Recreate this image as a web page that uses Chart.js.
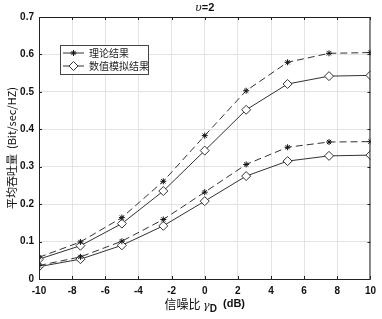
<!DOCTYPE html>
<html>
<head>
<meta charset="utf-8">
<script src="https://cdn.jsdelivr.net/npm/chart.js@4/dist/chart.umd.min.js"></script>
<style>
  html, body { margin: 0; padding: 0; background: #fff; }
  #wrap { width: 382px; height: 319px; }
</style>
</head>
<body>
<div id="wrap"><canvas id="c" width="382" height="319"></canvas></div>
<script>
// data
const snr = [-10, -7.5, -5, -2.5, 0, 2.5, 5, 7.5, 10];
const theoryHigh = [0.058, 0.099, 0.164, 0.261, 0.383, 0.503, 0.579, 0.603, 0.605];
const simHigh    = [0.053, 0.089, 0.148, 0.235, 0.343, 0.452, 0.521, 0.542, 0.544];
const theoryLow  = [0.036, 0.059, 0.101, 0.159, 0.232, 0.306, 0.352, 0.366, 0.367];
const simLow     = [0.033, 0.053, 0.090, 0.142, 0.208, 0.275, 0.315, 0.329, 0.331];
const legendLabels = ['理论结果', '数值模拟结果'];
const xTicks = [-10, -8, -6, -4, -2, 0, 2, 4, 6, 8, 10];

const ink = '#333';
const pts = ys => ys.map((y, i) => ({ x: snr[i], y }));

function theory(ys) {
  return {
    label: legendLabels[0], data: pts(ys),
    borderColor: ink, borderWidth: 1, borderDash: [7, 4],
    pointStyle: 'star', pointRadius: 3, pointBorderColor: '#111', pointBorderWidth: 1,
    pointBackgroundColor: '#111', tension: 0
  };
}
function sim(ys) {
  return {
    label: legendLabels[1], data: pts(ys),
    borderColor: ink, borderWidth: 1,
    pointStyle: 'rectRot', pointRadius: 4.5, pointBorderColor: ink, pointBorderWidth: 1,
    pointBackgroundColor: '#fff', tension: 0
  };
}

// box, title, x label with subscript, legend
const decor = {
  id: 'decor',
  afterDraw(chart) {
    const { ctx, chartArea: a } = chart;
    ctx.save();
    ctx.strokeStyle = '#222';
    ctx.lineWidth = 1;
    ctx.strokeRect(a.left + 0.5, a.top + 0.5, a.right - a.left - 1, a.bottom - a.top);

    // inward ticks
    const xs = chart.scales.x, ys = chart.scales.y;
    ctx.beginPath();
    xTicks.forEach(v => {
      const px = Math.round(xs.getPixelForValue(v)) + 0.5;
      ctx.moveTo(px, a.bottom); ctx.lineTo(px, a.bottom - 3);
      ctx.moveTo(px, a.top); ctx.lineTo(px, a.top + 3);
    });
    for (let v = 0; v <= 0.7001; v += 0.1) {
      const py = Math.round(ys.getPixelForValue(v)) + 0.5;
      ctx.moveTo(a.left, py); ctx.lineTo(a.left + 3, py);
      ctx.moveTo(a.right, py); ctx.lineTo(a.right - 3, py);
    }
    ctx.stroke();

    // title
    const cx = (a.left + a.right) / 2;
    ctx.fillStyle = '#111';
    ctx.textBaseline = 'middle';
    ctx.font = 'italic 11px "DejaVu Serif"';
    const w1 = ctx.measureText('υ').width;
    ctx.font = 'bold 11px "Liberation Sans"';
    const w2 = ctx.measureText('=2').width;
    let tx = cx - (w1 + w2) / 2;
    ctx.textAlign = 'left';
    ctx.font = 'italic 11px "DejaVu Serif"';
    ctx.fillText('υ', tx, 8);
    ctx.font = 'bold 11px "Liberation Sans"';
    ctx.fillText('=2', tx + w1, 8);

    // x label: 信噪比 γD (dB)
    const parts = [
      ['信噪比 ', '12px "Noto Sans CJK SC"', 0],
      ['γ', 'italic 11px "DejaVu Serif"', 2],
      ['D', 'bold 10px "Liberation Sans"', 5],
      ['  (dB)', 'bold 11px "Liberation Sans"', 0]
    ];
    let total = 0;
    parts.forEach(p => { ctx.font = p[1]; total += ctx.measureText(p[0]).width; });
    tx = cx - total / 2;
    parts.forEach(p => {
      ctx.font = p[1];
      ctx.fillText(p[0], tx, 304 + p[2]);
      tx += ctx.measureText(p[0]).width;
    });

    // legend
    const lx = 60, ly = 45, lw = 88, lh = 29;
    ctx.fillStyle = '#fff';
    ctx.fillRect(lx, ly, lw, lh);
    ctx.strokeStyle = '#444';
    ctx.strokeRect(lx + 0.5, ly + 0.5, lw, lh);
    const rows = [chart.data.datasets[0], chart.data.datasets[1]];
    rows.forEach((ds, i) => {
      const ry = ly + 8 + i * 13;
      ctx.strokeStyle = ink; ctx.lineWidth = 1; ctx.setLineDash([]);
      ctx.beginPath(); ctx.moveTo(lx + 3, ry); ctx.lineTo(lx + 24, ry); ctx.stroke();
      ctx.fillStyle = ds.pointBackgroundColor;
      ctx.strokeStyle = ds.pointBorderColor;
      ctx.lineWidth = ds.pointBorderWidth;
      Chart.helpers.drawPoint(ctx, { pointStyle: ds.pointStyle, radius: ds.pointRadius, rotation: 0, borderWidth: ds.pointBorderWidth }, lx + 13.5, ry);
      ctx.fillStyle = '#222';
      ctx.font = '10px "Noto Sans CJK SC"';
      ctx.textAlign = 'left';
      ctx.fillText(ds.label, lx + 29, ry);
    });
    ctx.restore();
  }
};

new Chart(document.getElementById('c'), {
  type: 'line',
  data: {
    datasets: [theory(theoryHigh), sim(simHigh), theory(theoryLow), sim(simLow)]
  },
  options: {
    responsive: false,
    animation: false,
    layout: { padding: { top: 17, right: 9, left: 0, bottom: 0 } },
    plugins: { legend: { display: false }, title: { display: false }, tooltip: { enabled: false } },
    scales: {
      x: {
        type: 'linear', min: -10, max: 10,
        afterBuildTicks: s => { s.ticks = xTicks.map(v => ({ value: v })); },
        grid: { color: '#e3e3e3', drawTicks: false },
        border: { display: false },
        ticks: { color: '#111', padding: 6, font: { family: 'Liberation Sans', size: 10, weight: 'bold' }, maxRotation: 0 },
        afterFit: s => { s.height = 40; }
      },
      y: {
        min: 0, max: 0.7,
        grid: { color: '#e3e3e3', drawTicks: false },
        border: { display: false },
        ticks: {
          stepSize: 0.1, color: '#111', padding: 5,
          font: { family: 'Liberation Sans', size: 10, weight: 'bold' },
          callback: v => (Math.abs(v) < 1e-9 ? '0' : v.toFixed(1))
        },
        title: {
          display: true, text: '平均吞吐量  (Bit/sec/HZ)', color: '#111',
          font: { family: 'Noto Sans CJK SC', size: 11 }, padding: { top: 5, bottom: 0 }
        },
        afterFit: s => { s.width = 39; }
      }
    }
  },
  plugins: [decor]
});
</script>
</body>
</html>
